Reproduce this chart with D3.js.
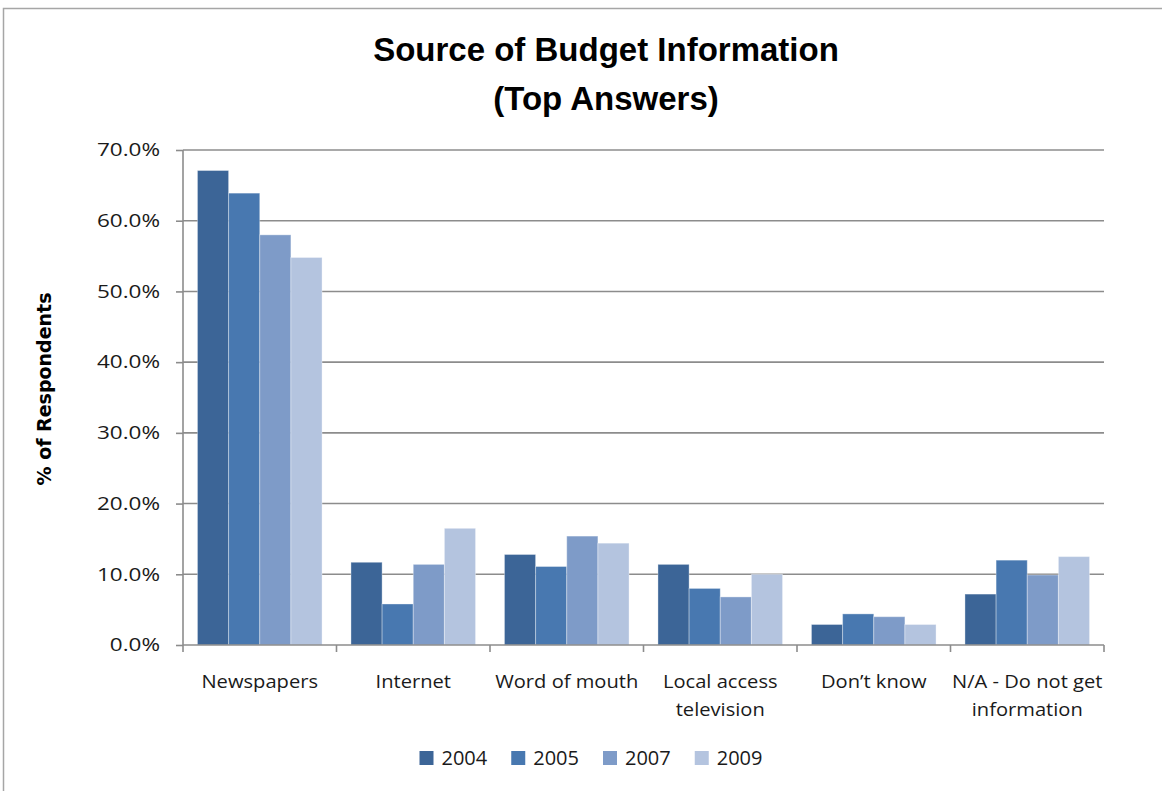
<!DOCTYPE html>
<html>
<head>
<meta charset="utf-8">
<script src="https://cdn.jsdelivr.net/npm/d3@7"></script>
<style>
  html, body { margin: 0; padding: 0; background: #fff; }
  svg { display: block; }
</style>
</head>
<body>
<svg id="chart" width="1162" height="791"></svg>
<script>
// ---- data ----
const categories = [["Newspapers"], ["Internet"], ["Word of mouth"], ["Local access", "television"], ["Don\u2019t know"], ["N/A - Do not get", "information"]];
const seriesNames = ["2004", "2005", "2007", "2009"];
const values2004 = [67.1, 11.7, 12.8, 11.4, 2.9, 7.2];
const values2005 = [63.9, 5.8, 11.1, 8.0, 4.4, 12.0];
const values2007 = [58.0, 11.4, 15.4, 6.8, 4.0, 9.9];
const values2009 = [54.8, 16.5, 14.4, 10.0, 2.9, 12.5];
const yTicks = [0, 10, 20, 30, 40, 50, 60, 70];
const colors = ["#3c6597", "#4878b0", "#7e9bc8", "#b4c4df"];
const titleLines = ["Source of Budget Information", "(Top Answers)"];
const yTitle = "% of Respondents";

const seriesValues = [values2004, values2005, values2007, values2009];

const svg = d3.select("#chart");
const W = 1162, H = 791;
const plot = { left: 183, right: 1104, top: 150, bottom: 645 };

// outer border
svg.append("rect").attr("x", 3.5).attr("y", 8.5).attr("width", W + 20).attr("height", H + 20)
  .attr("fill", "#fff").attr("stroke", "#a6a6a6").attr("stroke-width", 1.5);

// title
const tfont = "'Liberation Sans Narrow', 'Arial Narrow', 'Liberation Sans', sans-serif";
svg.append("text").attr("x", 606).attr("y", 61).attr("text-anchor", "middle")
  .attr("font-family", tfont).attr("font-weight", "bold").attr("font-size", 33)
  .attr("fill", "#000").text(titleLines[0]);
svg.append("text").attr("x", 606).attr("y", 110).attr("text-anchor", "middle")
  .attr("font-family", tfont).attr("font-weight", "bold").attr("font-size", 33)
  .attr("fill", "#000").text(titleLines[1]);

// scales
const x0 = d3.scaleBand().domain(d3.range(categories.length)).range([plot.left, plot.right]).paddingInner(0).paddingOuter(0);
const x1 = d3.scaleBand().domain(d3.range(seriesNames.length)).range([0, x0.bandwidth()]).paddingInner(0).paddingOuter(0.464);
const y = d3.scaleLinear().domain([0, 70]).range([plot.bottom, plot.top]);

const font = "'Open Sans', 'DejaVu Sans', sans-serif";

// gridlines
svg.append("g").selectAll("line").data(yTicks.filter(d => d > 0)).join("line")
  .attr("x1", plot.left).attr("x2", plot.right)
  .attr("y1", d => y(d)).attr("y2", d => y(d))
  .attr("stroke", "#8c8c8c").attr("stroke-width", 1.6);

// bars
const groups = svg.append("g").selectAll("g").data(categories.map((c, i) => i)).join("g")
  .attr("transform", i => `translate(${x0(i)},0)`);
groups.selectAll("rect").data(i => seriesValues.map((vals, s) => ({ s, v: vals[i] }))).join("rect")
  .attr("x", d => x1(d.s)).attr("width", x1.bandwidth())
  .attr("y", d => y(d.v)).attr("height", d => y(0) - y(d.v))
  .attr("fill", d => colors[d.s])
  .attr("stroke", "rgba(255,255,255,0.35)").attr("stroke-width", 1);

// y axis
const yAxis = d3.axisLeft(y).tickValues(yTicks).tickSize(7).tickPadding(16)
  .tickFormat(d => d.toFixed(1) + "%");
const gy = svg.append("g").attr("transform", `translate(${plot.left},0)`).call(yAxis);
gy.select(".domain").attr("stroke", "#8c8c8c").attr("stroke-width", 1.6).attr("d", `M0,${plot.top}V${plot.bottom}`);
gy.selectAll(".tick line").attr("stroke", "#8c8c8c").attr("stroke-width", 1.6);
gy.selectAll(".tick text").attr("font-family", font).attr("font-size", 18).attr("fill", "#1a1a1a")
  .attr("x", 0).attr("transform", "translate(-23,0) scale(1.25,1)");

// x axis
const gx = svg.append("g").attr("transform", `translate(0,${plot.bottom})`);
gx.append("line").attr("x1", plot.left).attr("x2", plot.right).attr("y1", 0).attr("y2", 0)
  .attr("stroke", "#8c8c8c").attr("stroke-width", 1.6);
const boundaries = d3.range(categories.length + 1).map(i => i < categories.length ? x0(i) : x0(categories.length - 1) + x0.bandwidth());
gx.selectAll("line.tk").data(boundaries).join("line").attr("class", "tk")
  .attr("x1", d => d).attr("x2", d => d).attr("y1", 0).attr("y2", 7)
  .attr("stroke", "#8c8c8c").attr("stroke-width", 1.6);
const labels = gx.selectAll("text").data(categories).join("text")
  .attr("text-anchor", "middle").attr("font-family", font).attr("font-size", 19).attr("fill", "#1a1a1a")
  .attr("transform", (d, i) => `translate(${x0(i) + x0.bandwidth() / 2},43) scale(1.06,1)`);
labels.selectAll("tspan").data(d => d).join("tspan").attr("x", 0).attr("dy", (d, j) => j === 0 ? 0 : 28).text(d => d);

// y title
svg.append("text").attr("transform", `translate(51,389) rotate(-90)`).attr("text-anchor", "middle")
  .attr("font-family", "'DejaVu Sans', sans-serif").attr("font-weight", "bold").attr("font-size", 19)
  .attr("fill", "#000").text(yTitle);

// legend
const leg = svg.append("g");
let cx = 0;
seriesNames.forEach((n, i) => {
  const g = leg.append("g").attr("transform", `translate(${cx},0)`);
  g.append("rect").attr("x", 0).attr("y", -14).attr("width", 14).attr("height", 14).attr("fill", colors[i]);
  const t = g.append("text").attr("x", 22).attr("y", 0).attr("font-family", font).attr("font-size", 20)
    .attr("fill", "#1a1a1a").text(n);
  const w = t.node().getComputedTextLength();
  cx += 22 + w + 24;
});
const totalW = cx - 24;
leg.attr("transform", `translate(${591 - totalW / 2},765)`);
</script>
</body>
</html>
